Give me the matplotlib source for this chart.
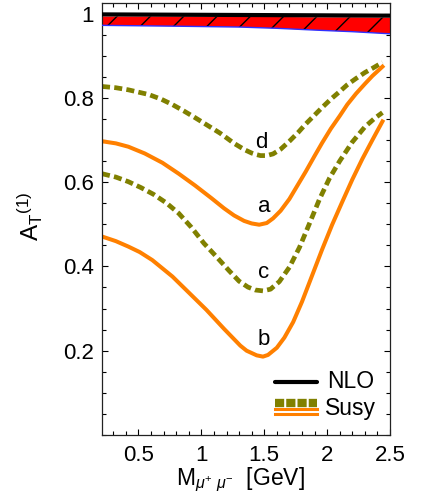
"""A_T^(1) vs dimuon invariant mass: NLO band and SUSY curves a-d."""

import matplotlib

matplotlib.use("Agg")
import matplotlib.pyplot as plt  # noqa: E402
from matplotlib.ticker import FixedLocator, MultipleLocator, FormatStrFormatter  # noqa: E402

plt.rcParams["font.family"] = ["Liberation Sans", "DejaVu Sans"]
plt.rcParams["mathtext.fontset"] = "custom"
plt.rcParams["mathtext.rm"] = "Liberation Sans"
plt.rcParams["mathtext.it"] = "Liberation Sans:italic"
plt.rcParams["mathtext.bf"] = "Liberation Sans:bold"
plt.rcParams["hatch.linewidth"] = 1.0

ORANGE = "#ff8000"
OLIVE = "#808000"

# NLO line and its uncertainty band
nlo_x = [0.21, 1.0, 1.8, 2.5]
nlo_y = [0.998, 0.997, 0.996, 0.995]
band_x = [0.21, 0.8, 1.3, 1.6, 1.96, 2.2, 2.5]
band_lo = [0.972, 0.970, 0.968, 0.965, 0.960, 0.957, 0.952]
band_hi = [0.993, 0.993, 0.992, 0.992, 0.991, 0.991, 0.990]

# SUSY curves (solid: a, b; dashed: c, d)
a_x = [0.21, 0.32, 0.42, 0.55, 0.69, 0.82, 0.95, 1.08, 1.18, 1.26, 1.34, 1.40, 1.46,
       1.52, 1.57, 1.63, 1.70, 1.76, 1.83, 1.90, 1.96, 2.03, 2.10, 2.16, 2.23, 2.30,
       2.36, 2.44]
a_y = [0.697, 0.692, 0.684, 0.668, 0.646, 0.620, 0.592, 0.562, 0.538, 0.521, 0.508,
       0.502, 0.499, 0.503, 0.514, 0.532, 0.560, 0.590, 0.625, 0.662, 0.693, 0.727,
       0.757, 0.784, 0.810, 0.833, 0.852, 0.874]

b_x = [0.21, 0.32, 0.42, 0.51, 0.61, 0.77, 0.90, 1.04, 1.18, 1.31, 1.36, 1.44, 1.49,
       1.53, 1.60, 1.66, 1.73, 1.80, 1.88, 1.96, 2.04, 2.12, 2.20, 2.28, 2.36, 2.44]
b_y = [0.471, 0.460, 0.447, 0.434, 0.415, 0.376, 0.338, 0.297, 0.252, 0.212, 0.200,
       0.189, 0.186, 0.190, 0.207, 0.231, 0.268, 0.316, 0.378, 0.440, 0.499, 0.553,
       0.606, 0.655, 0.700, 0.744]

c_x = [0.21, 0.32, 0.42, 0.52, 0.62, 0.72, 0.82, 0.92, 1.02, 1.12, 1.22, 1.30, 1.37,
       1.43, 1.49, 1.55, 1.62, 1.70, 1.78, 1.86, 1.94, 2.02, 2.10, 2.20, 2.30, 2.38,
       2.44]
c_y = [0.620, 0.612, 0.601, 0.587, 0.571, 0.551, 0.526, 0.493, 0.455, 0.423, 0.390,
       0.365, 0.351, 0.344, 0.342, 0.346, 0.364, 0.398, 0.445, 0.502, 0.560, 0.610,
       0.650, 0.695, 0.731, 0.752, 0.765]

d_x = [0.21, 0.32, 0.42, 0.58, 0.68, 0.77, 0.86, 0.95, 1.08, 1.15, 1.21, 1.26, 1.31,
       1.35, 1.40, 1.43, 1.47, 1.52, 1.57, 1.63, 1.70, 1.77, 1.83, 1.90, 1.96, 2.03,
       2.10, 2.16, 2.23, 2.30, 2.36, 2.44]
d_y = [0.827, 0.824, 0.819, 0.808, 0.797, 0.784, 0.769, 0.753, 0.729, 0.716, 0.703,
       0.692, 0.683, 0.676, 0.669, 0.666, 0.663, 0.663, 0.667, 0.678, 0.697, 0.718,
       0.738, 0.759, 0.777, 0.797, 0.815, 0.831, 0.846, 0.860, 0.870, 0.884]

curve_labels = ["d", "a", "c", "b"]
label_x = [1.48, 1.50, 1.495, 1.495]
label_y = [0.694, 0.542, 0.385, 0.226]

x_ticks = [0.5, 1.0, 1.5, 2.0, 2.5]
y_ticks = [0.2, 0.4, 0.6, 0.8, 1.0]


def main() -> None:
    fig = plt.figure(figsize=(4.24, 5.04), dpi=100)
    ax = fig.add_axes([0.2406, 0.1369, 0.6792, 0.8571])

    ax.fill_between(band_x, band_lo, band_hi, facecolor="red", edgecolor="black",
                    hatch="/", linewidth=0, zorder=2)
    ax.plot(band_x, band_lo, color="#3030ff", lw=1.0, zorder=3)
    ax.plot(nlo_x, nlo_y, color="black", lw=3.0, zorder=4)

    dash = dict(color=OLIVE, lw=3.4, dashes=(1.7, 0.9), dash_capstyle="butt")
    ax.plot(d_x, d_y, **dash)
    ax.plot(c_x, c_y, **dash)
    ax.plot(a_x, a_y, color=ORANGE, lw=2.9)
    ax.plot(b_x, b_y, color=ORANGE, lw=2.9)

    for lab, lx, ly in zip(curve_labels, label_x, label_y, strict=True):
        ax.text(lx, ly, lab, fontsize=16, ha="center", va="center")

    # hand-drawn legend, bottom right
    tr = ax.transAxes
    ax.plot([0.601, 0.747], [0.1227, 0.1227], color="black", lw=3.0, transform=tr,
            solid_capstyle="round")
    ax.text(0.781, 0.1227, "NLO", fontsize=16.5, va="center", ha="left", transform=tr)
    ax.plot([0.601, 0.747], [0.074, 0.074], color=OLIVE, lw=6.0, dashes=(1.1, 0.25),
            transform=tr)
    ax.plot([0.601, 0.747], [0.061, 0.061], color=ORANGE, lw=2.2, transform=tr)
    ax.plot([0.601, 0.747], [0.049, 0.049], color=ORANGE, lw=2.2, transform=tr)
    ax.text(0.774, 0.062, "Susy", fontsize=16.5, va="center", ha="left", transform=tr)

    ax.set_xlim(0.21, 2.5)
    ax.set_ylim(0.0, 1.025)
    ax.xaxis.set_major_locator(FixedLocator(x_ticks))
    ax.xaxis.set_minor_locator(MultipleLocator(0.1))
    ax.yaxis.set_major_locator(FixedLocator(y_ticks))
    ax.yaxis.set_minor_locator(MultipleLocator(0.05))
    ax.xaxis.set_major_formatter(FormatStrFormatter("%g"))
    ax.yaxis.set_major_formatter(FormatStrFormatter("%g"))
    ax.tick_params(which="both", direction="in", top=True, right=True, width=0.8)
    ax.tick_params(which="major", length=4.5, labelsize=16)
    ax.tick_params(which="minor", length=3)
    ax.tick_params(axis="x", which="major", pad=7)
    ax.tick_params(axis="y", which="major", pad=6)
    for sp in ax.spines.values():
        sp.set_linewidth(0.9)
        sp.set_color("#222222")

    ax.text(-0.247, 0.507, r"$\mathregular{A_T{}^{(1)}}$", fontsize=17.5, rotation=90,
            ha="center", va="center", transform=tr)
    ax.text(0.479, -0.1157, r"$\mathrm{M}_{\mu^{+}\ \mu^{-}}$  [GeV]", fontsize=16.5,
            ha="center", va="baseline", transform=tr)

    fig.savefig("out.png", dpi=100)
    plt.close(fig)


if __name__ == "__main__":
    main()
